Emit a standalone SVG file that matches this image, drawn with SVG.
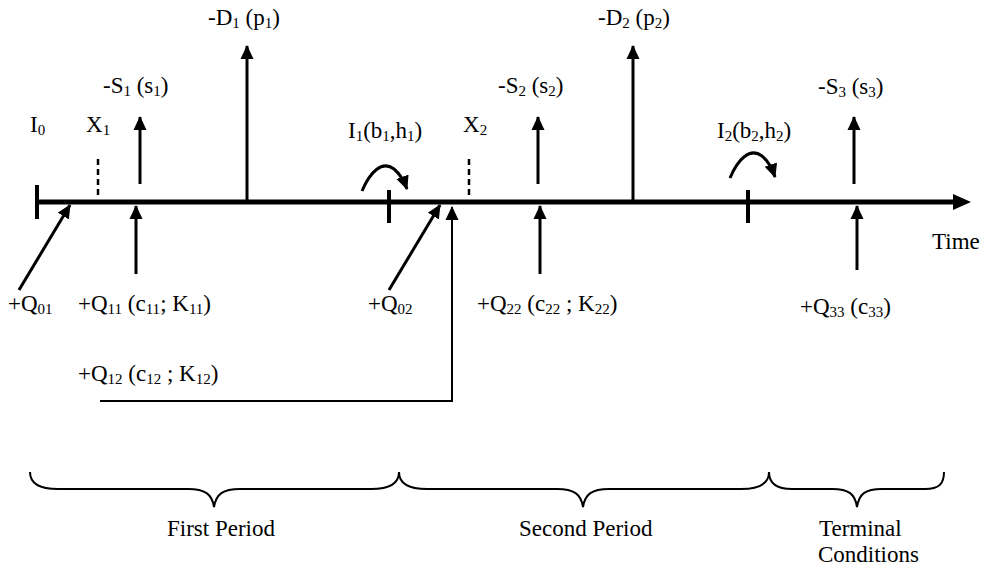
<svg xmlns="http://www.w3.org/2000/svg" width="983" height="574" viewBox="0 0 983 574">
<defs>
<marker id="ah" markerUnits="userSpaceOnUse" markerWidth="14" markerHeight="14" viewBox="0 0 14 14" refX="13" refY="7" orient="auto">
<path d="M0,0.5 L14,7 L0,13.5 Z" fill="#000"/>
</marker>
</defs>
<style>
text{font-family:"Liberation Serif","Times New Roman",serif;font-size:23px;fill:#000}
.sub{font-size:15px}
.ln{stroke:#000;fill:none;stroke-width:3}
.thin{stroke:#000;fill:none;stroke-width:2}
.tick{stroke:#000;stroke-width:4}
.dash{stroke:#000;stroke-width:2.5;stroke-dasharray:6,4}
.brace{stroke:#000;fill:none;stroke-width:2}
</style>
<rect width="983" height="574" fill="#fff"/>

<g id="axis">
<line x1="36" y1="202" x2="955" y2="202" stroke="#000" stroke-width="5"/>
<path d="M953,194 L971,202 L953,210 Z" fill="#000"/>
<line class="tick" x1="37" y1="185" x2="37" y2="219"/>
<line class="tick" x1="389" y1="190" x2="389" y2="223"/>
<line class="tick" x1="748" y1="190" x2="748" y2="223"/>
<text x="932" y="249">Time</text>
</g>

<g id="connectors">
<line class="ln" x1="140" y1="184" x2="140" y2="117" marker-end="url(#ah)"/>
<line class="ln" x1="538" y1="184" x2="538" y2="117" marker-end="url(#ah)"/>
<line class="ln" x1="854" y1="184" x2="854" y2="117" marker-end="url(#ah)"/>
<line class="ln" x1="247" y1="201" x2="247" y2="46" marker-end="url(#ah)"/>
<line class="ln" x1="633" y1="201" x2="633" y2="46" marker-end="url(#ah)"/>
<line class="ln" x1="136" y1="274" x2="136" y2="206" marker-end="url(#ah)"/>
<line class="ln" x1="540" y1="274" x2="540" y2="206" marker-end="url(#ah)"/>
<line class="ln" x1="857" y1="270" x2="857" y2="206" marker-end="url(#ah)"/>
<line class="ln" x1="19" y1="290" x2="70" y2="205" marker-end="url(#ah)"/>
<line class="ln" x1="389" y1="290" x2="440" y2="205" marker-end="url(#ah)"/>
<path class="thin" d="M100,401 L452,401 L452,207" marker-end="url(#ah)"/>
<path class="ln" d="M362,191 C370,172 382,160 394,169 C400,174 404,181 407,189" marker-end="url(#ah)"/>
<path class="ln" d="M730,178 C738,159 750,147 762,156 C768,161 772,168 775,177" marker-end="url(#ah)"/>
<line class="dash" x1="98" y1="159" x2="98" y2="198"/>
<line class="dash" x1="469" y1="159" x2="469" y2="198"/>
</g>

<g id="labels-top">
<text x="208" y="25">-D<tspan class="sub" dy="3">1</tspan><tspan dy="-3"> (p</tspan><tspan class="sub" dy="3">1</tspan><tspan dy="-3">)</tspan></text>
<text x="598" y="25">-D<tspan class="sub" dy="3">2</tspan><tspan dy="-3"> (p</tspan><tspan class="sub" dy="3">2</tspan><tspan dy="-3">)</tspan></text>
<text x="103" y="93">-S<tspan class="sub" dy="3">1</tspan><tspan dy="-3"> (s</tspan><tspan class="sub" dy="3">1</tspan><tspan dy="-3">)</tspan></text>
<text x="498" y="93">-S<tspan class="sub" dy="3">2</tspan><tspan dy="-3"> (s</tspan><tspan class="sub" dy="3">2</tspan><tspan dy="-3">)</tspan></text>
<text x="818" y="94">-S<tspan class="sub" dy="3">3</tspan><tspan dy="-3"> (s</tspan><tspan class="sub" dy="3">3</tspan><tspan dy="-3">)</tspan></text>
<text x="30" y="132">I<tspan class="sub" dy="3">0</tspan></text>
<text x="86" y="132">X<tspan class="sub" dy="3">1</tspan></text>
<text x="463" y="132">X<tspan class="sub" dy="3">2</tspan></text>
<text x="348" y="138">I<tspan class="sub" dy="3">1</tspan><tspan dy="-3">(b</tspan><tspan class="sub" dy="3">1</tspan><tspan dy="-3">,h</tspan><tspan class="sub" dy="3">1</tspan><tspan dy="-3">)</tspan></text>
<text x="717" y="138">I<tspan class="sub" dy="3">2</tspan><tspan dy="-3">(b</tspan><tspan class="sub" dy="3">2</tspan><tspan dy="-3">,h</tspan><tspan class="sub" dy="3">2</tspan><tspan dy="-3">)</tspan></text>
</g>

<g id="labels-bottom">
<text x="8" y="311">+Q<tspan class="sub" dy="3">01</tspan></text>
<text x="78" y="311">+Q<tspan class="sub" dy="3">11</tspan><tspan dy="-3"> (c</tspan><tspan class="sub" dy="3">11</tspan><tspan dy="-3">; K</tspan><tspan class="sub" dy="3">11</tspan><tspan dy="-3">)</tspan></text>
<text x="78" y="381">+Q<tspan class="sub" dy="3">12</tspan><tspan dy="-3"> (c</tspan><tspan class="sub" dy="3">12</tspan><tspan dy="-3"> ; K</tspan><tspan class="sub" dy="3">12</tspan><tspan dy="-3">)</tspan></text>
<text x="368" y="311">+Q<tspan class="sub" dy="3">02</tspan></text>
<text x="477" y="311">+Q<tspan class="sub" dy="3">22</tspan><tspan dy="-3"> (c</tspan><tspan class="sub" dy="3">22</tspan><tspan dy="-3"> ; K</tspan><tspan class="sub" dy="3">22</tspan><tspan dy="-3">)</tspan></text>
<text x="800" y="314">+Q<tspan class="sub" dy="3">33</tspan><tspan dy="-3"> (c</tspan><tspan class="sub" dy="3">33</tspan><tspan dy="-3">)</tspan></text>
</g>

<g id="braces">
<path class="brace" d="M30,472 C30,484 40,489 58,489 L188,489 C205,489 212,494 214,507 C216,494 223,489 240,489 L371,489 C389,489 399,484 399,472"/>
<path class="brace" d="M399,472 C399,484 409,489 427,489 L557,489 C574,489 581,494 583,507 C585,494 592,489 609,489 L741,489 C759,489 769,484 769,472"/>
<path class="brace" d="M769,472 C769,484 777,489 792,489 L832,489 C849,489 855,494 857,507 C859,494 865,489 882,489 L925,489 C939,489 944,484 944,472"/>
<text x="167" y="536">First Period</text>
<text x="519" y="536">Second Period</text>
<text x="819" y="536">Terminal</text>
<text x="818" y="562">Conditions</text>
</g>
</svg>
